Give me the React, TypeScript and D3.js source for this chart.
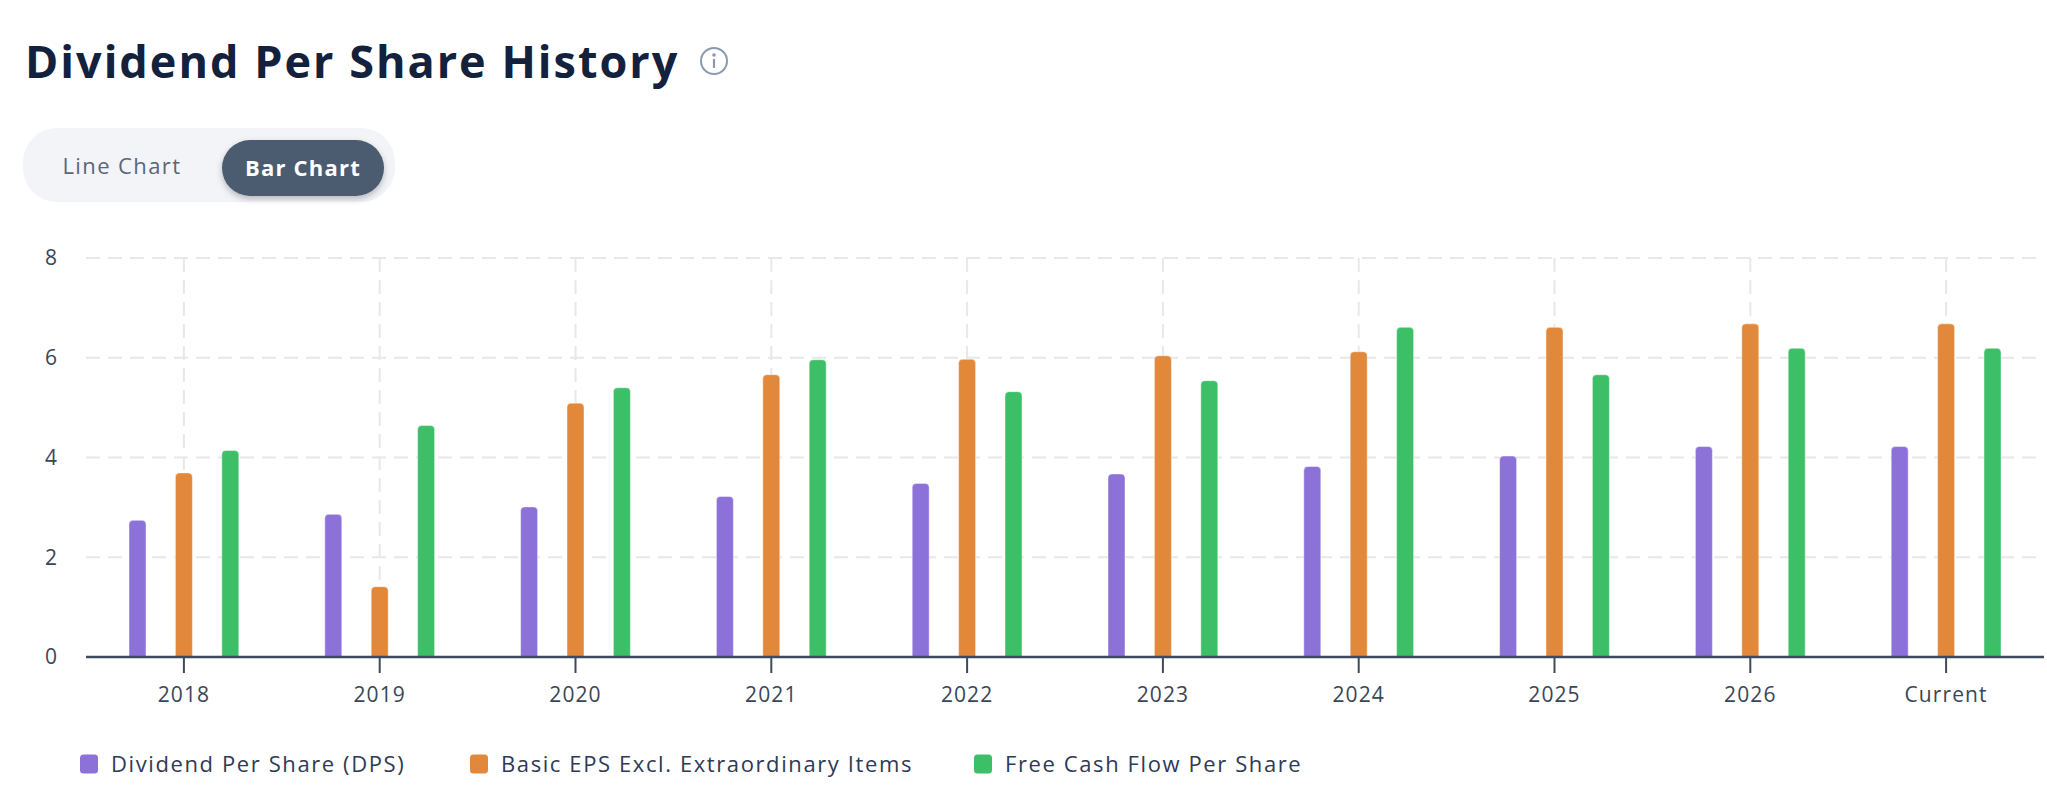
import { useEffect, useRef } from "react";
import * as d3 from "d3";

const categories = ["2018", "2019", "2020", "2021", "2022", "2023", "2024", "2025", "2026", "Current"];
const dpsValues = [2.74, 2.86, 3.01, 3.22, 3.48, 3.67, 3.82, 4.03, 4.22, 4.22];
const epsValues = [3.69, 1.41, 5.09, 5.66, 5.97, 6.04, 6.12, 6.61, 6.68, 6.68];
const fcfValues = [4.14, 4.64, 5.4, 5.96, 5.32, 5.54, 6.61, 5.66, 6.19, 6.19];
const seriesNames = ["Dividend Per Share (DPS)", "Basic EPS Excl. Extraordinary Items", "Free Cash Flow Per Share"];
const seriesColors = ["#8c72d8", "#e2883a", "#3dbf67"];
const yTicks = [0, 2, 4, 6, 8];

const FONT = "'Open Sans', sans-serif";

export default function App() {
  const ref = useRef<HTMLDivElement>(null);

  useEffect(() => {
    if (!ref.current) return;
    const container = ref.current;
    d3.select(container).selectAll("*").remove();

    const width = 2047;
    const height = 806;
    const margin = { top: 258, right: 3, bottom: 149, left: 86 };

    const svg = d3
      .select(container)
      .append("svg")
      .attr("width", width)
      .attr("height", height)
      .style("display", "block")
      .style("font-family", FONT);

    // Title + info icon
    svg
      .append("text")
      .attr("x", 25)
      .attr("y", 78)
      .attr("fill", "#14213d")
      .attr("font-size", "45px")
      .attr("font-weight", "700")
      .attr("letter-spacing", "2px")
      .text("Dividend Per Share History");

    const info = svg.append("g").attr("transform", "translate(714,61)");
    info.append("circle").attr("r", 13).attr("fill", "none").attr("stroke", "#8a9bb1").attr("stroke-width", 2);
    info.append("circle").attr("cy", -6).attr("r", 1.8).attr("fill", "#8a9bb1");
    info.append("line").attr("y1", -2).attr("y2", 7).attr("stroke", "#8a9bb1").attr("stroke-width", 2.2);

    // Toggle
    const defs = svg.append("defs");
    const shadow = defs.append("filter").attr("id", "btnShadow").attr("x", "-20%").attr("y", "-20%").attr("width", "140%").attr("height", "160%");
    shadow.append("feDropShadow").attr("dx", 0).attr("dy", 3).attr("stdDeviation", 3).attr("flood-color", "#000").attr("flood-opacity", 0.25);

    svg.append("rect").attr("x", 23).attr("y", 128).attr("width", 372).attr("height", 74).attr("rx", 34).attr("fill", "#f3f4f8");
    svg
      .append("text")
      .attr("x", 122)
      .attr("y", 166)
      .attr("dy", "0.35em")
      .attr("text-anchor", "middle")
      .attr("fill", "#5b6678")
      .attr("font-size", "22px")
      .attr("letter-spacing", "1.4px")
      .text("Line Chart");
    svg
      .append("rect")
      .attr("x", 222)
      .attr("y", 140)
      .attr("width", 162)
      .attr("height", 56)
      .attr("rx", 28)
      .attr("fill", "#4b5b70")
      .attr("filter", "url(#btnShadow)");
    svg
      .append("text")
      .attr("x", 303)
      .attr("y", 168)
      .attr("dy", "0.35em")
      .attr("text-anchor", "middle")
      .attr("fill", "#ffffff")
      .attr("font-size", "22px")
      .attr("font-weight", "700")
      .attr("letter-spacing", "1.2px")
      .text("Bar Chart");

    // Scales
    const x = d3
      .scaleBand()
      .domain(categories)
      .range([margin.left, width - margin.right]);
    const y = d3
      .scaleLinear()
      .domain([0, 8])
      .range([height - margin.bottom, margin.top]);
    const inner = d3.scaleBand().domain(["0", "1", "2"]).range([-58, 58]).paddingInner(0.5);

    // Gridlines
    svg
      .append("g")
      .selectAll("line")
      .data(yTicks.filter((t) => t > 0))
      .join("line")
      .attr("x1", margin.left)
      .attr("x2", width - margin.right)
      .attr("y1", (d) => y(d))
      .attr("y2", (d) => y(d))
      .attr("stroke", "#e8e8ea")
      .attr("stroke-width", 2)
      .attr("stroke-dasharray", "14,8");

    svg
      .append("g")
      .selectAll("line")
      .data(categories)
      .join("line")
      .attr("x1", (d) => x(d)! + x.bandwidth() / 2)
      .attr("x2", (d) => x(d)! + x.bandwidth() / 2)
      .attr("y1", y(8))
      .attr("y2", y(0))
      .attr("stroke", "#e8e8ea")
      .attr("stroke-width", 2)
      .attr("stroke-dasharray", "14,8");

    // Y labels
    svg
      .append("g")
      .selectAll("text")
      .data(yTicks)
      .join("text")
      .attr("x", 57)
      .attr("y", (d) => y(d))
      .attr("dy", "0.35em")
      .attr("text-anchor", "end")
      .attr("fill", "#3a4658")
      .attr("font-size", "21px")
      .text((d) => d);

    // Bars
    const allSeries = [dpsValues, epsValues, fcfValues];
    const barW = 17;
    const r = 4;
    allSeries.forEach((vals, si) => {
      svg
        .append("g")
        .selectAll("path")
        .data(vals)
        .join("path")
        .attr("fill", seriesColors[si])
        .attr("stroke", "rgba(255,255,255,0.45)")
        .attr("stroke-width", 1)
        .attr("d", (v, i) => {
          const cx = x(categories[i])! + x.bandwidth() / 2 + inner(String(si))! + inner.bandwidth() / 2;
          const x0 = cx - barW / 2;
          const y0 = y(v);
          const yb = y(0);
          return `M${x0},${yb}V${y0 + r}Q${x0},${y0} ${x0 + r},${y0}H${x0 + barW - r}Q${x0 + barW},${y0} ${x0 + barW},${y0 + r}V${yb}Z`;
        });
    });

    // X axis
    const xAxis = svg
      .append("g")
      .attr("transform", `translate(0,${y(0)})`)
      .call(d3.axisBottom(x).tickSize(16).tickPadding(14))
      .call((g) => g.select(".domain").attr("stroke", "#3d4a5c").attr("stroke-width", 2.5))
      .call((g) => g.selectAll(".tick line").attr("stroke", "#3d4a5c").attr("stroke-width", 2))
      .call((g) =>
        g
          .selectAll(".tick text")
          .attr("fill", "#3a4658")
          .attr("font-size", "21px")
          .attr("font-family", FONT)
          .attr("letter-spacing", "1.1px")
      );
    xAxis.select(".domain").attr("d", `M${margin.left},0H${width - margin.right}`);

    // Legend
    const legendX = [80, 470, 974];
    const legend = svg
      .append("g")
      .selectAll("g")
      .data(seriesNames)
      .join("g")
      .attr("transform", (_, i) => `translate(${legendX[i]},764)`);
    legend
      .append("rect")
      .attr("x", 0)
      .attr("y", -9.5)
      .attr("width", 18)
      .attr("height", 19)
      .attr("rx", 3.5)
      .attr("fill", (_, i) => seriesColors[i]);
    legend
      .append("text")
      .attr("x", 31)
      .attr("dy", "0.35em")
      .attr("fill", "#2f3a55")
      .attr("font-size", "22px")
      .attr("letter-spacing", "1.6px")
      .text((d) => d);
  }, []);

  return <div ref={ref} style={{ position: "absolute", left: 0, top: 0 }} />;
}
